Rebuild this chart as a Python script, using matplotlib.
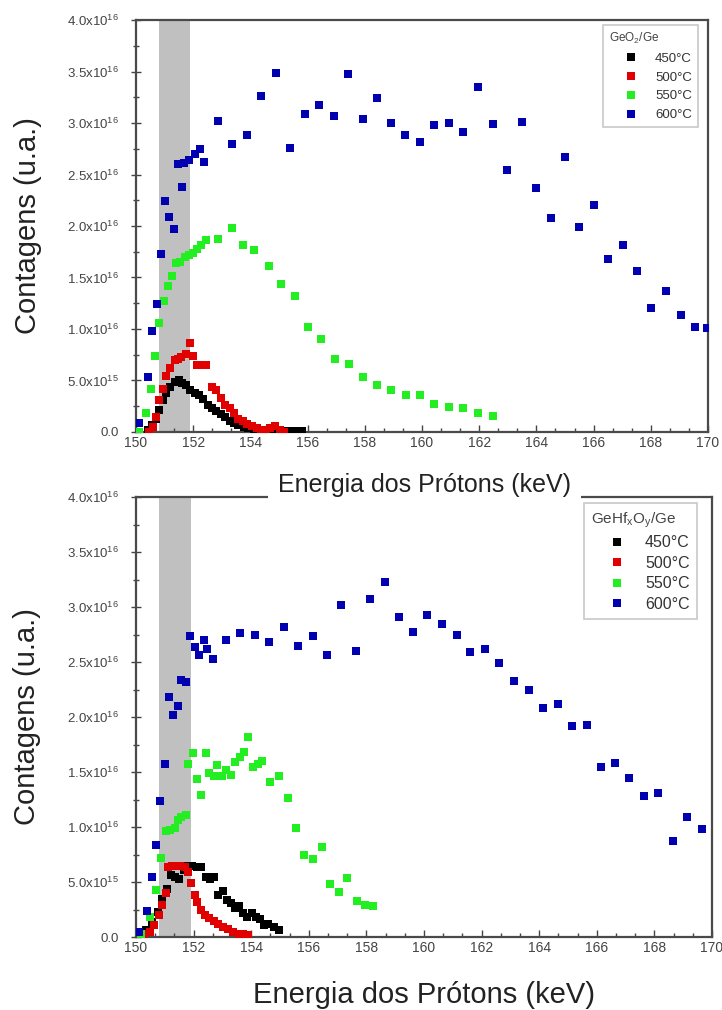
import numpy as np
import matplotlib
matplotlib.use("Agg")
import matplotlib.pyplot as plt
from matplotlib.ticker import MultipleLocator, AutoMinorLocator, FuncFormatter

plt.rcParams['font.family'] = ['Liberation Sans', 'DejaVu Sans']
plt.rcParams['mathtext.default'] = 'regular'

# energies in keV, counts in units of 1e16
labels = ['450°C', '500°C', '550°C', '600°C']
colors = ['#000000', '#e00000', '#22ee22', '#0000b0']

# --- GeO2/Ge ---
t450_x = [150.41, 150.56, 150.70, 150.82, 150.94, 151.06, 151.20, 151.35, 151.49, 151.62,
          151.76, 151.90, 152.05, 152.21, 152.35, 152.50, 152.64, 152.79, 152.96, 153.11,
          153.29, 153.43, 153.58, 153.76, 153.93, 154.11, 154.28, 154.45, 154.62, 154.79,
          154.96, 155.13, 155.30, 155.47, 155.64, 155.81]
t450_y = [0.02, 0.07, 0.13, 0.21, 0.31, 0.38, 0.44, 0.49, 0.50, 0.48,
          0.46, 0.41, 0.38, 0.36, 0.32, 0.26, 0.23, 0.20, 0.17, 0.15,
          0.11, 0.09, 0.07, 0.05, 0.04, 0.03, 0.02, 0.015, 0.01, 0.01,
          0.01, 0.01, 0.01, 0.01, 0.01, 0.01]

t500_x = [150.47, 150.59, 150.70, 150.82, 150.94, 151.06, 151.20, 151.35, 151.47, 151.58,
          151.74, 151.88, 152.00, 152.14, 152.29, 152.46, 152.64, 152.79, 152.96, 153.11,
          153.29, 153.43, 153.58, 153.73, 153.87, 154.05, 154.23, 154.38, 154.55, 154.69,
          154.87, 155.02, 155.17]
t500_y = [0.00, 0.05, 0.15, 0.31, 0.42, 0.54, 0.62, 0.70, 0.71, 0.73,
          0.76, 0.86, 0.74, 0.65, 0.65, 0.65, 0.44, 0.41, 0.33, 0.26,
          0.23, 0.18, 0.13, 0.11, 0.08, 0.06, 0.04, 0.02, 0.02, 0.04,
          0.06, 0.02, 0.00]

t550_x = [150.10, 150.35, 150.53, 150.68, 150.82, 150.99, 151.12, 151.27, 151.41, 151.55,
          151.70, 151.85, 152.00, 152.15, 152.29, 152.46, 152.88, 153.35, 153.73, 154.14,
          154.64, 155.07, 155.55, 156.00, 156.46, 156.95, 157.44, 157.92, 158.42, 158.92,
          159.43, 159.93, 160.42, 160.94, 161.45, 161.97, 162.48]
t550_y = [0.00, 0.18, 0.42, 0.74, 1.06, 1.27, 1.42, 1.51, 1.64, 1.65,
          1.70, 1.72, 1.74, 1.78, 1.82, 1.86, 1.87, 1.98, 1.82, 1.77,
          1.61, 1.44, 1.32, 1.02, 0.90, 0.71, 0.66, 0.53, 0.46, 0.41,
          0.36, 0.36, 0.27, 0.24, 0.23, 0.18, 0.16]

t600_x = [150.10, 150.41, 150.55, 150.73, 150.86, 151.03, 151.16, 151.33, 151.47, 151.62,
          151.67, 151.84, 152.05, 152.23, 152.38, 152.88, 153.37, 153.87, 154.38, 154.90,
          155.40, 155.90, 156.41, 156.92, 157.43, 157.93, 158.43, 158.92, 159.42, 159.93,
          160.42, 160.94, 161.45, 161.97, 162.48, 162.97, 163.50, 163.97, 164.50, 165.00,
          165.50, 166.00, 166.50, 167.02, 167.51, 168.02, 168.52, 169.04, 169.53, 169.98]
t600_y = [0.09, 0.53, 0.98, 1.24, 1.73, 2.24, 2.09, 1.97, 2.60, 2.38,
          2.61, 2.64, 2.70, 2.75, 2.62, 3.02, 2.80, 2.88, 3.26, 3.49,
          2.76, 3.09, 3.17, 3.07, 3.48, 3.04, 3.24, 3.00, 2.88, 2.82,
          2.98, 3.00, 2.91, 3.35, 2.99, 2.54, 3.01, 2.37, 2.08, 2.67,
          1.99, 2.20, 1.68, 1.82, 1.56, 1.20, 1.37, 1.14, 1.02, 1.01]

# --- GeHfxOy/Ge ---
b450_x = [150.17, 150.35, 150.56, 150.76, 150.91, 151.07, 151.22, 151.37, 151.51, 151.65,
          151.81, 151.96, 152.12, 152.27, 152.42, 152.56, 152.70, 152.86, 153.01, 153.15,
          153.29, 153.44, 153.59, 153.73, 153.87, 154.02, 154.17, 154.31, 154.45, 154.60,
          154.78, 154.95]
b450_y = [0.03, 0.06, 0.14, 0.23, 0.35, 0.44, 0.56, 0.55, 0.53, 0.61,
          0.65, 0.65, 0.64, 0.64, 0.55, 0.53, 0.55, 0.38, 0.42, 0.34,
          0.31, 0.26, 0.28, 0.22, 0.18, 0.22, 0.18, 0.16, 0.11, 0.12,
          0.09, 0.06]

b500_x = [150.12, 150.29, 150.47, 150.64, 150.79, 150.91, 151.03, 151.11, 151.26, 151.40,
          151.54, 151.69, 151.81, 151.92, 152.04, 152.12, 152.24, 152.39, 152.54, 152.70,
          152.86, 153.03, 153.21, 153.38, 153.56, 153.73, 153.90]
b500_y = [0.04, 0.03, 0.05, 0.11, 0.20, 0.29, 0.40, 0.64, 0.65, 0.65,
          0.65, 0.64, 0.59, 0.49, 0.38, 0.32, 0.25, 0.20, 0.17, 0.15,
          0.12, 0.09, 0.07, 0.05, 0.03, 0.03, 0.02]

b550_x = [150.17, 150.47, 150.70, 150.87, 151.03, 151.17, 151.34, 151.46, 151.57, 151.72,
          151.81, 151.98, 152.12, 152.27, 152.42, 152.54, 152.70, 152.82, 152.97, 153.12,
          153.29, 153.44, 153.61, 153.75, 153.90, 154.06, 154.22, 154.37, 154.64, 154.95,
          155.27, 155.57, 155.83, 156.14, 156.47, 156.74, 157.05, 157.34, 157.67, 157.95,
          158.22]
b550_y = [0.03, 0.18, 0.43, 0.72, 0.96, 0.97, 0.99, 1.06, 1.09, 1.11,
          1.57, 1.67, 1.44, 1.29, 1.67, 1.49, 1.46, 1.56, 1.46, 1.52,
          1.47, 1.59, 1.64, 1.68, 1.82, 1.55, 1.57, 1.60, 1.41, 1.46,
          1.26, 0.99, 0.75, 0.71, 0.82, 0.48, 0.41, 0.54, 0.33, 0.29,
          0.28]

b600_x = [150.12, 150.37, 150.55, 150.70, 150.84, 151.01, 151.14, 151.30, 151.46, 151.57,
          151.75, 151.89, 152.04, 152.19, 152.35, 152.48, 152.66, 153.12, 153.61, 154.12,
          154.63, 155.13, 155.63, 156.13, 156.62, 157.13, 157.63, 158.14, 158.63, 159.12,
          159.62, 160.11, 160.61, 161.13, 161.60, 162.12, 162.62, 163.14, 163.64, 164.13,
          164.65, 165.15, 165.65, 166.14, 166.64, 167.11, 167.63, 168.12, 168.65, 169.14,
          169.64]
b600_y = [0.05, 0.24, 0.55, 0.84, 1.24, 1.57, 2.18, 2.02, 2.10, 2.34,
          2.32, 2.74, 2.64, 2.56, 2.70, 2.62, 2.53, 2.70, 2.76, 2.75,
          2.68, 2.82, 2.65, 2.74, 2.56, 3.02, 2.60, 3.07, 3.23, 2.91,
          2.77, 2.93, 2.85, 2.75, 2.59, 2.62, 2.49, 2.33, 2.25, 2.08,
          2.12, 1.92, 1.93, 1.55, 1.58, 1.45, 1.28, 1.31, 0.87, 1.09,
          0.98]

band_lo = 150.8
band_hi = 151.9


def sci_fmt(v, pos):
    if v < 1e10:
        return '0.0' if abs(v) < 1e10 else ''
    e = int(np.floor(np.log10(v) + 1e-9))
    return f'{v / 10**e:.1f}x10$^{{{e}}}$'


def setup_axes(ax):
    ax.set_xlim(150, 170)
    ax.set_ylim(0, 4e16)
    ax.xaxis.set_major_locator(MultipleLocator(2))
    ax.xaxis.set_minor_locator(AutoMinorLocator(3))
    ax.yaxis.set_major_locator(MultipleLocator(0.5e16))
    ax.yaxis.set_minor_locator(AutoMinorLocator(2))
    ax.yaxis.set_major_formatter(FuncFormatter(sci_fmt))
    ax.tick_params(axis='x', which='major', direction='in', length=5, width=1,
                   labelsize=10, labelcolor='#444444', color='#444444', pad=3)
    ax.tick_params(axis='x', which='minor', direction='in', length=3, width=1, color='#444444')
    ax.tick_params(axis='y', which='major', direction='inout', length=7, width=1,
                   labelsize=9.5, labelcolor='#444444', color='#444444', pad=9)
    ax.tick_params(axis='y', which='minor', direction='inout', length=5, width=1, color='#444444')
    for s in ax.spines.values():
        s.set_color('#4a4a4a')
        s.set_linewidth(1.6)


def draw(ax, xs, ys, title, fs_title, fs_lab, anchor, hlen, lspace):
    ax.axvspan(band_lo, band_hi, color='#c0c0c0', lw=0, zorder=1)
    for x, y, c, lab in zip(xs, ys, colors, labels):
        ax.plot(x, np.array(y) * 1e16, 's', ms=5.8, mew=0, color=c, label=lab, zorder=3)
    leg = ax.legend(loc='upper right', bbox_to_anchor=anchor, borderaxespad=0,
                    title=title, fontsize=fs_lab, title_fontsize=fs_title,
                    handlelength=hlen, handletextpad=0.1, labelspacing=lspace,
                    borderpad=0.45, fancybox=False, framealpha=1, edgecolor='#c8c8c8',
                    alignment='left')
    leg.get_frame().set_linewidth(1.2)
    for t in leg.get_texts():
        t.set_color('#333333')
    leg.get_title().set_color('#444444')


fig = plt.figure(figsize=(7.22, 10.10), dpi=100)
ax1 = fig.add_axes([136 / 722, 1 - 432 / 1010, 572 / 722, 412 / 1010])
ax2 = fig.add_axes([136 / 722, 1 - 937 / 1010, 576 / 722, 440 / 1010])
ax1.set_zorder(3)

draw(ax1, [t450_x, t500_x, t550_x, t600_x], [t450_y, t500_y, t550_y, t600_y],
     'GeO$_2$/Ge', 8.5, 9.5, (0.9825, 0.988), 3.4, 0.5)
draw(ax2, [b450_x, b500_x, b550_x, b600_x], [b450_y, b500_y, b550_y, b600_y],
     'GeHf$_x$O$_y$/Ge', 11, 11.5, (0.974, 0.986), 3.3, 0.35)

for ax in (ax1, ax2):
    setup_axes(ax)
    ax.set_ylabel('Contagens (u.a.)', fontsize=21, color='#222222', va='center')
    ax.yaxis.set_label_coords(-0.189, 0.5)

ax1.set_xlabel('Energia dos Prótons (keV)', fontsize=18, color='#222222', va='center',
               bbox=dict(boxstyle='square,pad=0.4', fc='white', ec='none'))
ax1.xaxis.set_label_coords(0.505, -0.129)
ax2.set_xlabel('Energia dos Prótons (keV)', fontsize=21, color='#222222', va='center')
ax2.xaxis.set_label_coords(0.5, -0.132)

fig.savefig('out.png', dpi=100)
